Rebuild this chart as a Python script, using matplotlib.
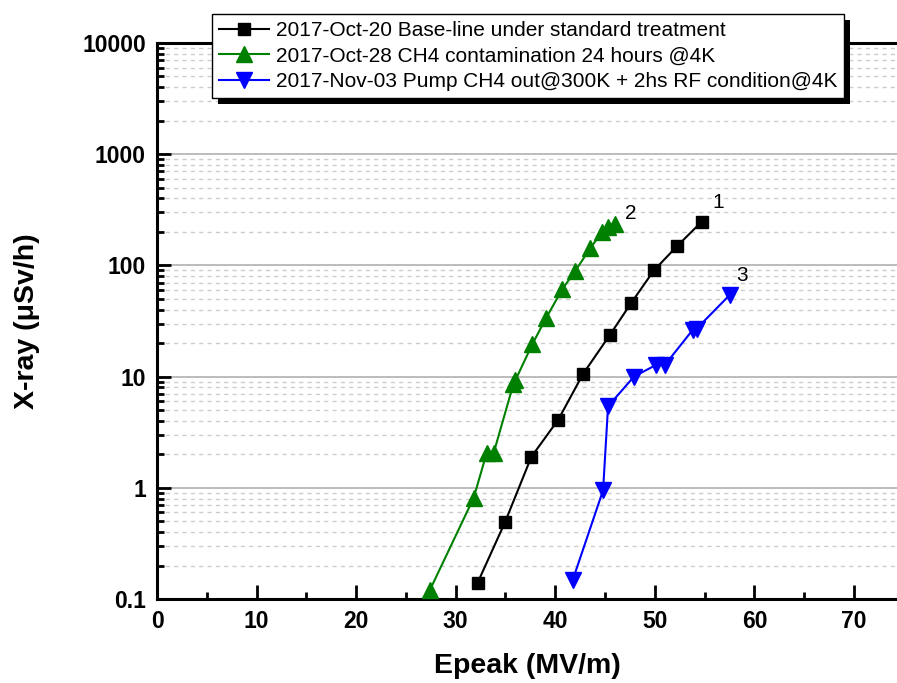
import matplotlib
matplotlib.use("Agg")
import matplotlib.pyplot as plt
from matplotlib.ticker import FixedLocator, LogLocator, FuncFormatter, MultipleLocator, NullFormatter
from matplotlib.patches import Rectangle
from matplotlib.transforms import IdentityTransform

plt.rcParams['font.family'] = ['Liberation Sans', 'DejaVu Sans']

# Data
base_x = [32.2, 34.95, 37.6, 40.3, 42.8, 45.5, 47.6, 49.9, 52.2, 54.7]
base_y = [0.14, 0.49, 1.9, 4.1, 10.6, 23.8, 45.6, 90, 148, 247]

ch4_x = [27.4, 31.8, 33.1, 33.8, 35.8, 36.0, 37.7, 39.1, 40.7, 42.0, 43.5, 44.7, 45.3, 46.0]
ch4_y = [0.12, 0.81, 2.04, 2.04, 8.6, 9.3, 19.6, 33.9, 61, 89, 142, 200, 222, 235]

pump_x = [41.75, 44.8, 45.3, 47.9, 50.1, 51.0, 53.8, 54.2, 57.5]
pump_y = [0.148, 0.95, 5.4, 10.0, 12.7, 12.7, 26.3, 27.0, 54]

labels = ["2017-Oct-20 Base-line under standard treatment",
          "2017-Oct-28 CH4 contamination 24 hours @4K",
          "2017-Nov-03 Pump CH4 out@300K + 2hs RF condition@4K"]

annots = [("1", 55.8, 300), ("2", 47.0, 240), ("3", 58.2, 66)]

x_ticks = [0, 10, 20, 30, 40, 50, 60, 70]
y_ticks = [0.1, 1, 10, 100, 1000, 10000]

fig = plt.figure(figsize=(8.97, 6.83), dpi=100)
ax = fig.add_axes([157/897, 1 - 599/683, (897-157)/897, (599-43)/683])

ax.plot(base_x, base_y, color='black', marker='s', markersize=8.5, lw=1.5, label=labels[0], zorder=3)
ax.plot(ch4_x, ch4_y, color='#008000', marker='^', markersize=11, lw=1.5, label=labels[1], zorder=3)
ax.plot(pump_x, pump_y, color='#0000ff', marker='v', markersize=11, lw=1.5, label=labels[2], zorder=3)

ax.set_yscale('log')
ax.set_xlim(0, 740/9.957)
ax.set_ylim(0.1, 10000)

ax.xaxis.set_major_locator(FixedLocator(x_ticks))
ax.xaxis.set_minor_locator(MultipleLocator(5))
ax.yaxis.set_major_locator(FixedLocator(y_ticks))
ax.yaxis.set_minor_locator(LogLocator(base=10, subs=range(2, 10), numticks=20))
ax.yaxis.set_major_formatter(FuncFormatter(lambda v, p: '%g' % v))
ax.yaxis.set_minor_formatter(NullFormatter())

ax.grid(True, axis='y', which='major', color='#b0b0b0', lw=1.2, ls='-', zorder=0)
ax.grid(True, axis='y', which='minor', color='#cccccc', lw=1.0, ls=(0, (3, 3)), zorder=0)

ax.tick_params(axis='both', which='major', direction='in', length=10, width=2,
               labelsize=16.5, pad=8)
ax.tick_params(axis='both', which='minor', direction='in', length=5, width=2)
ax.tick_params(top=False, right=False, which='both')
for lab in ax.get_xticklabels() + ax.get_yticklabels():
    lab.set_fontweight('bold')

for s in ['left', 'bottom', 'top']:
    ax.spines[s].set_linewidth(2.2)
ax.spines['right'].set_visible(False)

ax.set_xlabel('Epeak (MV/m)', fontsize=20.5, fontweight='bold', labelpad=14)
ax.set_ylabel('X-ray (μSv/h)', fontsize=20.5, fontweight='bold', labelpad=30)

for t, x, y in annots:
    ax.text(x, y, t, fontsize=15, ha='left', va='bottom')

leg = ax.legend(loc='upper left', bbox_to_anchor=(212/897, 1 - 14/683), bbox_transform=fig.transFigure,
                borderaxespad=0, fancybox=False, framealpha=1, edgecolor='black',
                shadow=False, fontsize=15, handlelength=2.4,
                handletextpad=0.3, labelspacing=0.3, borderpad=0.35)
leg.get_frame().set_linewidth(1.0)
leg.set_zorder(10)

fig.canvas.draw()
bb = leg.get_window_extent()
shadow = Rectangle((bb.x0 + 6, bb.y0 - 6), bb.width, bb.height, transform=IdentityTransform(),
                   facecolor='black', edgecolor='none', zorder=9, clip_on=False)
ax.add_artist(shadow)

fig.savefig('out.png', dpi=100)
